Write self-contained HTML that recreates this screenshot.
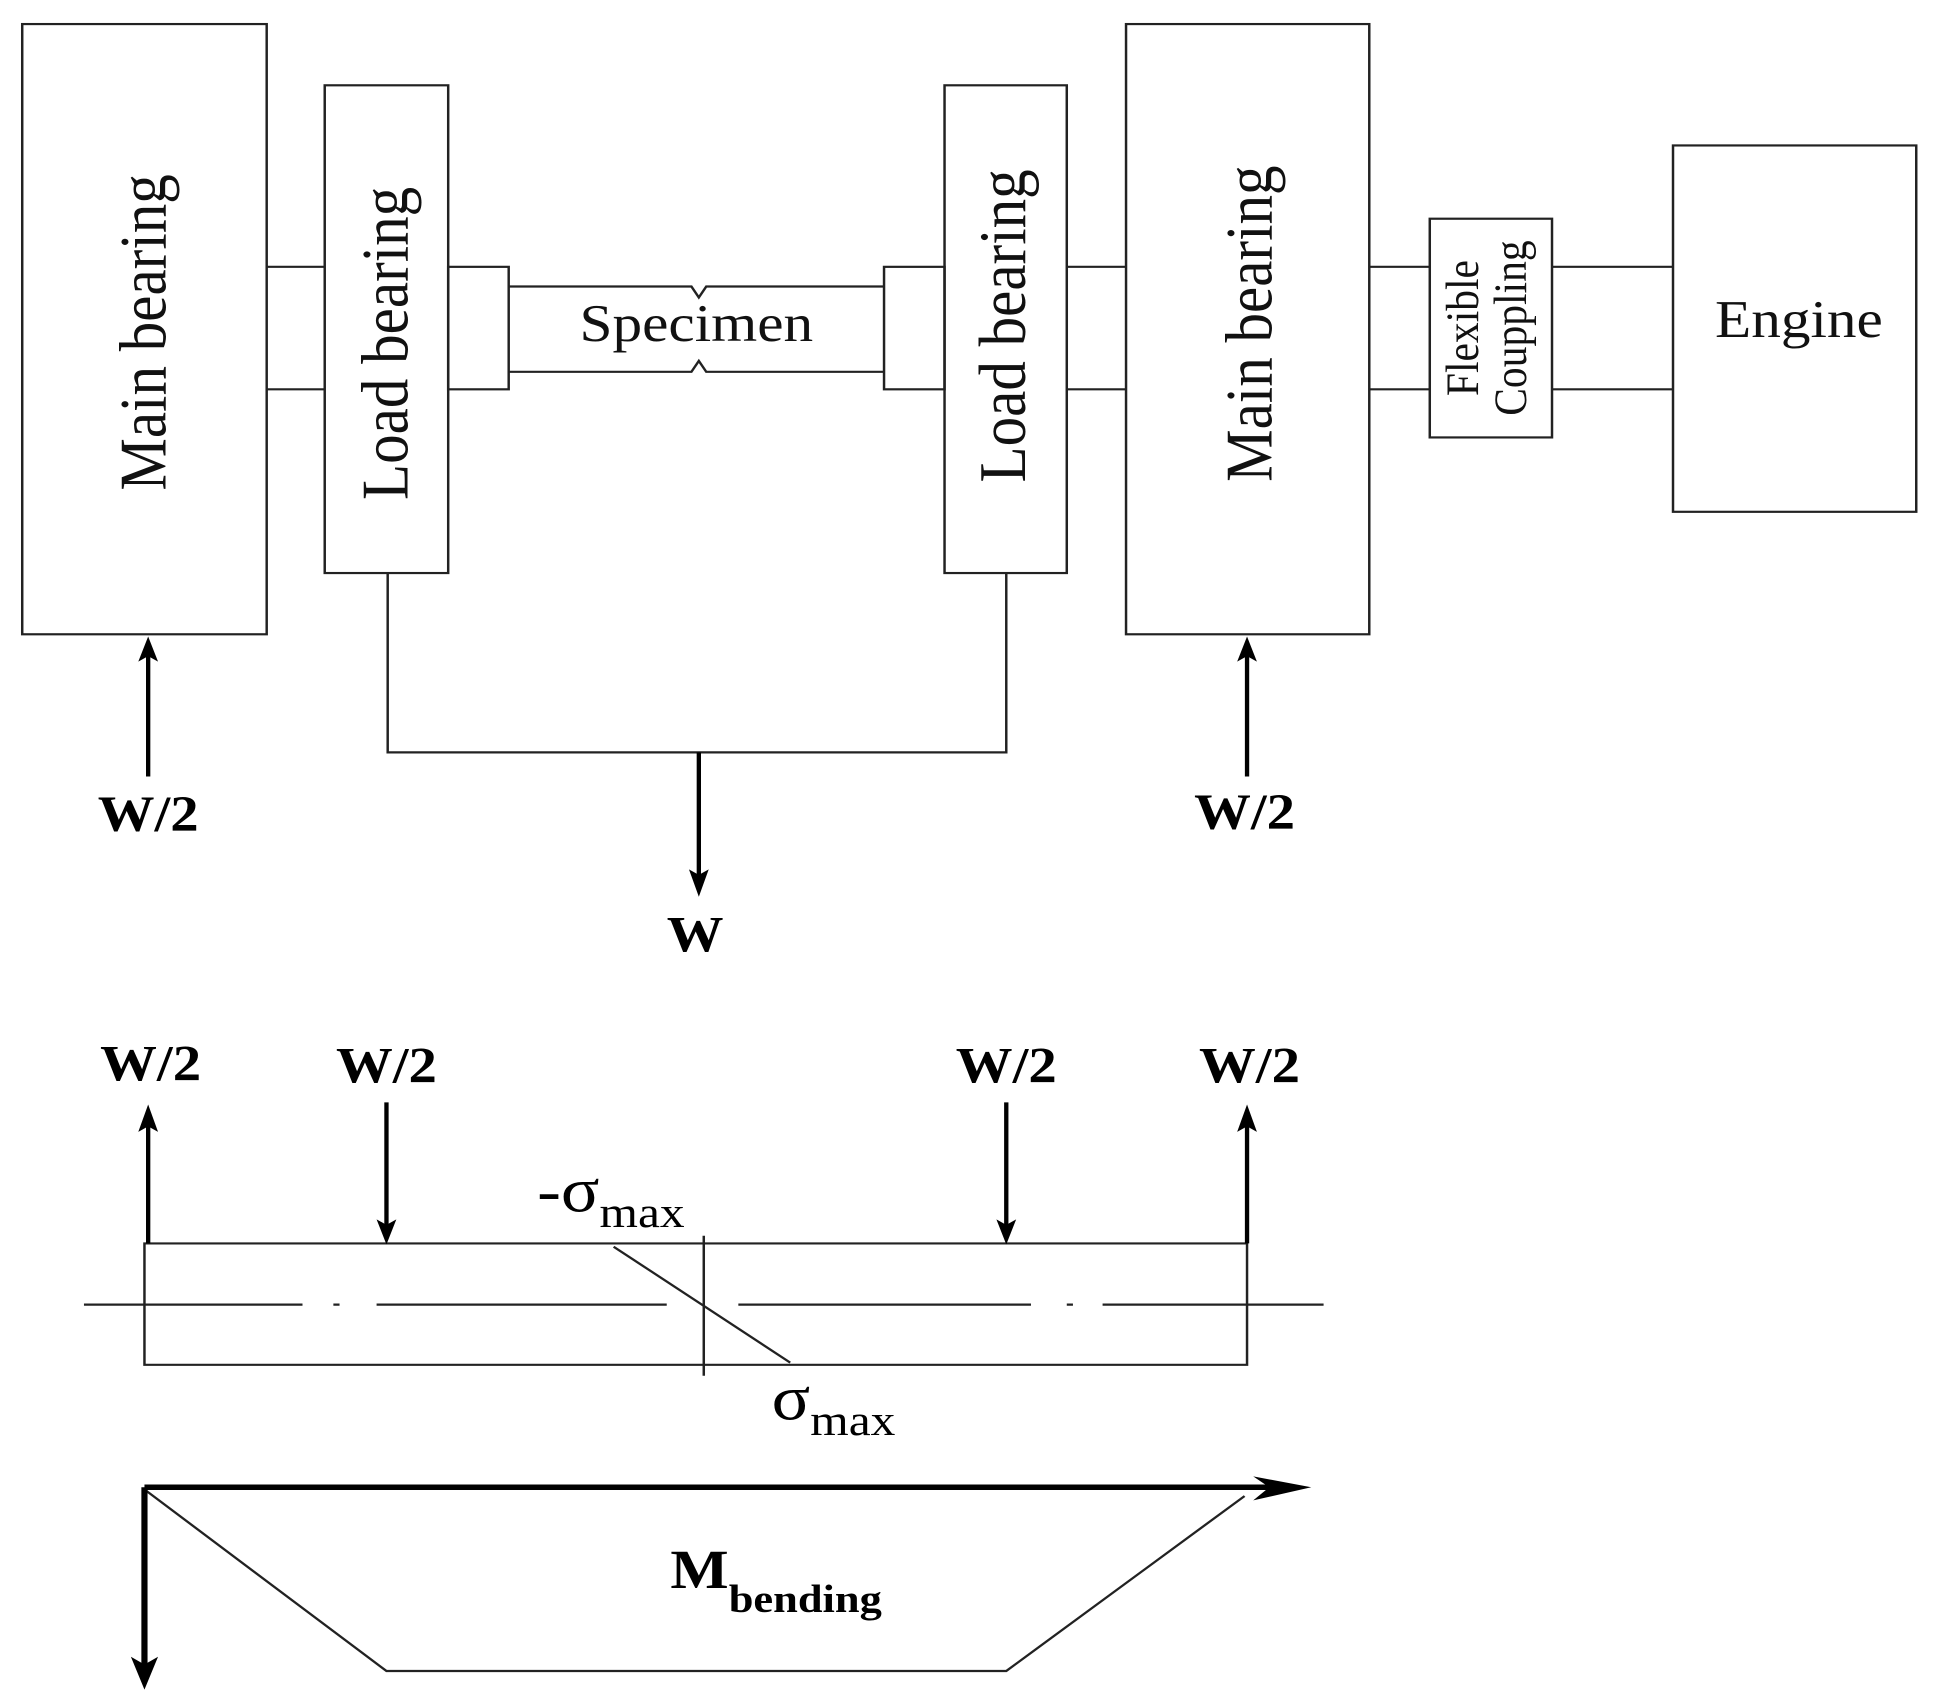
<!DOCTYPE html>
<html><head><style>html,body{margin:0;padding:0;background:#fff;overflow:hidden}svg{display:block}</style></head><body>
<svg width="1936" height="1706" viewBox="0 0 1568 1560" preserveAspectRatio="none" xmlns="http://www.w3.org/2000/svg" font-family="Liberation Serif, serif">
<g fill="none" stroke="#222" stroke-width="2">
<rect x="18" y="22" width="198" height="558"/>
<rect x="263" y="78" width="100" height="446"/>
<rect x="363" y="244" width="49" height="112"/>
<rect x="716" y="244" width="49" height="112"/>
<rect x="765" y="78" width="99" height="446"/>
<rect x="912" y="22" width="197" height="558"/>
<rect x="1158" y="200" width="99" height="200"/>
<rect x="1355" y="133" width="197" height="335"/>
<path d="M216 244H263M216 356H263M864 244H912M864 356H912M1109 244H1158M1109 356H1158M1257 244H1355M1257 356H1355"/>
<path d="M412 262H560L566 272L572 262H716M412 340H560L566 330L572 340H716"/>
<path d="M314 524V688H815V524"/>
<path d="M117 1137H1010V1248H117Z"/>
<path d="M68 1193H245M270 1193H275M305 1193H540M598 1193H835M864 1193H869M893 1193H1072"/>
<path d="M570 1130V1258M497 1140L640 1246"/>
<path d="M117 1362L313 1528H815L1008 1368"/>
</g>
<g stroke="#000" stroke-width="3.5" fill="none">
<path d="M566 688V805M120 710V595M1010 710V595M120 1137V1025M313 1008V1125M815 1008V1125M1010 1137V1025"/>
<path d="M117 1360H1040M117 1360V1525" stroke-width="5"/>
</g>
<g fill="#000">
<path d="M558 795L566 820L574 795L566 800Z"/>
<path d="M112 605L120 582L128 605L120 600Z"/>
<path d="M1002 605L1010 582L1018 605L1010 600Z"/>
<path d="M112 1035L120 1010L128 1035L120 1030Z"/>
<path d="M1002 1035L1010 1010L1018 1035L1010 1030Z"/>
<path d="M305 1115L313 1138L321 1115L313 1120Z"/>
<path d="M807 1115L815 1138L823 1115L815 1120Z"/>
<path d="M1015 1350L1062 1360L1015 1372L1028 1360Z"/>
<path d="M106 1515L117 1545L128 1515L117 1522Z"/>
</g>
<g fill="#111" font-size="54">
<text transform="translate(134 304) rotate(-90)" text-anchor="middle">Main bearing</text>
<text transform="translate(330 314) rotate(-90)" text-anchor="middle">Load bearing</text>
<text transform="translate(830 298) rotate(-90)" text-anchor="middle">Load bearing</text>
<text transform="translate(1030 296) rotate(-90)" text-anchor="middle">Main bearing</text>
<text x="564" y="312" text-anchor="middle" font-size="48">Specimen</text>
<text x="1457" y="308" text-anchor="middle" font-size="48">Engine</text>
<text transform="translate(1197 300) rotate(-90)" text-anchor="middle" font-size="38">Flexible</text>
<text transform="translate(1236 300) rotate(-90)" text-anchor="middle" font-size="38">Couppling</text>
</g>
<g fill="#000" font-weight="bold" font-size="46" text-anchor="middle">
<text x="120" y="760">W/2</text>
<text x="1008" y="758">W/2</text>
<text x="563" y="870">W</text>
<text x="122" y="988">W/2</text>
<text x="313" y="990">W/2</text>
<text x="815" y="990">W/2</text>
<text x="1012" y="990">W/2</text>
</g>
<g fill="#000">
<text x="435" y="1108" font-size="58">-σ<tspan font-size="40" dy="14">max</tspan></text>
<text x="625" y="1298" font-size="58">σ<tspan font-size="40" dy="14">max</tspan></text>
<text x="543" y="1452" font-size="50" font-weight="bold">M<tspan font-size="36" dy="22">bending</tspan></text>
</g>
</svg>
</body></html>
